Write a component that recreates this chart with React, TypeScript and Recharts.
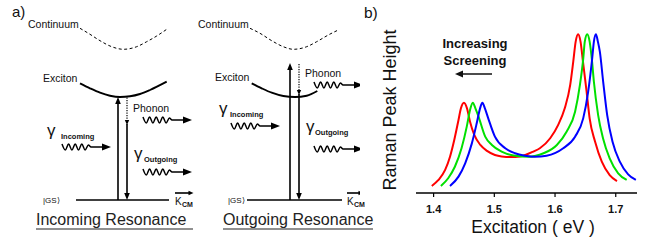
import React from 'react';
import { ComposedChart, LineChart, Line, Scatter, XAxis, YAxis } from 'recharts';

const FONT = '"Liberation Sans", Arial, Helvetica, sans-serif';

// ---- panel b: Raman peak height vs excitation energy (eV) ----
const redEnergy = [1.397, 1.408, 1.419, 1.427, 1.434, 1.441, 1.445, 1.450, 1.455, 1.460, 1.467, 1.477, 1.488, 1.501, 1.512, 1.527, 1.542, 1.551, 1.564, 1.575, 1.592, 1.605, 1.616, 1.625, 1.630, 1.634, 1.638, 1.642, 1.646, 1.652, 1.657, 1.666, 1.677, 1.690, 1.702];
const redHeight = [4.0, 7.4, 13.1, 20.6, 30.1, 41.5, 48.1, 51.3, 48.1, 40.5, 33.0, 27.3, 23.9, 21.6, 20.8, 20.5, 20.8, 21.6, 23.5, 25.4, 31.1, 38.6, 48.1, 61.4, 74.6, 86.0, 90.2, 86.0, 74.6, 57.6, 42.4, 29.1, 17.8, 10.2, 6.8];

const greenEnergy = [1.412, 1.424, 1.435, 1.446, 1.4546, 1.460, 1.4645, 1.469, 1.474, 1.485, 1.496, 1.512, 1.534, 1.556, 1.581, 1.603, 1.619, 1.633, 1.641, 1.6465, 1.649, 1.653, 1.657, 1.661, 1.664, 1.671, 1.679, 1.690, 1.704, 1.718];
const greenHeight = [4.0, 8.4, 14.9, 25.4, 37.7, 47.2, 51.3, 48.0, 43.4, 32.0, 27.3, 23.5, 21.2, 20.6, 22.6, 27.3, 34.8, 46.2, 61.4, 76.5, 86.0, 90.2, 86.0, 74.6, 63.2, 44.3, 31.1, 19.7, 11.2, 7.4];

const blueEnergy = [1.427, 1.441, 1.452, 1.463, 1.471, 1.4765, 1.4803, 1.4845, 1.490, 1.501, 1.518, 1.534, 1.5505, 1.567, 1.586, 1.6135, 1.633, 1.6464, 1.6546, 1.6612, 1.664, 1.6673, 1.6706, 1.6738, 1.6793, 1.6859, 1.6947, 1.7067, 1.7204, 1.7331];
const blueHeight = [4.0, 9.3, 16.9, 28.2, 39.6, 48.1, 51.3, 48.1, 42.4, 32.0, 25.4, 22.6, 21.2, 20.6, 21.2, 25.4, 32.0, 42.4, 57.6, 76.5, 86.0, 90.2, 86.0, 80.3, 63.2, 44.3, 29.1, 17.8, 10.6, 7.4];

const energyTicks = [1.4, 1.5, 1.6, 1.7];

// ---- panel a: energy diagrams (diagram box coordinates, y down) ----
const continuumIn = [[80, 28.3], [90, 34.3], [100, 40.7], [111.7, 46.7], [123.3, 49.3], [136.7, 46.7], [146.7, 41.7], [156.7, 36], [166.7, 29.3]];
const continuumOut = [[250, 28.3], [260, 33.3], [271.7, 40.7], [283.3, 46.7], [293.3, 49.3], [306.7, 46.7], [316.7, 41.7], [328.3, 35], [338.3, 30]];
const excitonIn = [[80, 83.3], [90, 88.3], [100, 92.7], [110, 95.7], [120, 97], [130, 96.3], [140, 94], [150, 90], [166.7, 81.7]];
const excitonOut = [[251.7, 83.3], [261.7, 88.3], [271.7, 92.7], [283.3, 96], [295, 97], [306.7, 95.7], [317.3, 91]];
const groundIn = [[76, 200], [169, 200]];
const groundOut = [[247, 200], [342, 200]];
const solidIn = [[[118, 200], [118, 102]], [[127, 124], [127, 195]], [[175, 193], [190, 193]]];
const solidOut = [[[290, 200], [290, 68]], [[299, 94], [299, 195]], [[347, 193], [360, 193]]];
const dottedIn = [[127, 97.5], [127, 120]];
const dottedOut = [[299, 64], [299, 90]];
const photonWave = [[0, -3], [3.3, 3], [6.6, -3], [9.9, 3], [13.2, -3], [16.5, 3], [19.8, -3], [23.1, 3], [26.4, -2], [29, 0], [41, 0]];
const photonStarts = [[62, 147], [143, 120], [143, 172], [231, 126], [314, 85], [314, 149]];
const heads = [
  { x: 118, y: 97, dir: 'up', kind: 'big' },
  { x: 127, y: 125, dir: 'down', kind: 'small' },
  { x: 127, y: 200, dir: 'down', kind: 'big' },
  { x: 193.5, y: 193, dir: 'right', kind: 'small' },
  { x: 290, y: 63, dir: 'up', kind: 'big' },
  { x: 299, y: 95, dir: 'down', kind: 'small' },
  { x: 299, y: 200, dir: 'down', kind: 'big' },
  { x: 363.5, y: 193, dir: 'right', kind: 'small' },
];

const pts = (a: number[][]) => a.map(([x, y]) => ({ x, y }));
const photonTips = photonStarts.map(([x, y]) => ({ x: x + 49, y, dir: 'right', kind: 'photon' }));

const HEAD_SIZE: Record<string, [number, number]> = { big: [7, 2.8], small: [5, 2.2], photon: [9, 3.5] };
const HEAD_ROT: Record<string, number> = { right: 0, down: 90, left: 180, up: -90 };

const ArrowHead = (props: any) => {
  const { cx, cy, payload } = props;
  const [len, hw] = HEAD_SIZE[payload.kind];
  return (
    <polygon
      points={`0,0 ${-len},${-hw} ${-len},${hw}`}
      transform={`translate(${cx},${cy}) rotate(${HEAD_ROT[payload.dir]})`}
      fill="#000"
    />
  );
};

const EnergyTick = (props: any) => {
  const { x, y, payload } = props;
  return (
    <text x={x} y={y} dy="0.71em" textAnchor="middle" fontSize={11} fontWeight="bold" fill="#111" fontFamily={FONT}>
      {Number(payload.value).toFixed(1)}
    </text>
  );
};

const profiles = [
  { name: 'red', color: '#ff0000', e: redEnergy, h: redHeight },
  { name: 'green', color: '#00e000', e: greenEnergy, h: greenHeight },
  { name: 'blue', color: '#0000ff', e: blueEnergy, h: blueHeight },
];

const Diagram = () => {
  const line = (key: string, data: number[][], extra: any = {}) => (
    <Line
      key={key}
      data={pts(data)}
      dataKey="y"
      type="linear"
      stroke="#000"
      strokeWidth={1.6}
      dot={false}
      activeDot={false}
      isAnimationActive={false}
      {...extra}
    />
  );
  return (
    <ComposedChart width={360} height={247} margin={{ top: 0, right: 0, bottom: 0, left: 0 }}>
      <XAxis type="number" dataKey="x" domain={[0, 360]} hide allowDataOverflow />
      <YAxis type="number" dataKey="y" domain={[0, 247]} reversed hide allowDataOverflow />
      {line('cIn', continuumIn, { type: 'monotone', strokeWidth: 1, strokeDasharray: '3 2.5' })}
      {line('cOut', continuumOut, { type: 'monotone', strokeWidth: 1, strokeDasharray: '3 2.5' })}
      {line('eIn', excitonIn, { type: 'monotone', strokeWidth: 1.9 })}
      {line('eOut', excitonOut, { type: 'monotone', strokeWidth: 1.9 })}
      {line('gIn', groundIn, { strokeWidth: 1.6 })}
      {line('gOut', groundOut, { strokeWidth: 1.6 })}
      {solidIn.map((s, i) => line(`sIn${i}`, s))}
      {solidOut.map((s, i) => line(`sOut${i}`, s))}
      {line('dIn', dottedIn, { strokeWidth: 1.2, strokeDasharray: '1.2 1.3' })}
      {line('dOut', dottedOut, { strokeWidth: 1.2, strokeDasharray: '1.2 1.3' })}
      {photonStarts.map(([x0, y0], i) =>
        line(`ph${i}`, photonWave.map(([dx, dy]) => [x0 + dx, y0 + dy]), { type: 'monotone', strokeWidth: 1.5 })
      )}
      <Scatter data={[...heads, ...photonTips]} shape={ArrowHead} isAnimationActive={false} />
    </ComposedChart>
  );
};

const Profiles = () => (
  <LineChart width={300} height={247} margin={{ top: 17, right: 23, bottom: 0, left: 56 }}>
    <XAxis
      type="number"
      dataKey="e"
      domain={[1.371, 1.735]}
      ticks={energyTicks}
      allowDataOverflow
      tick={<EnergyTick />}
      tickSize={4}
      tickMargin={8}
      height={54}
      axisLine={{ stroke: '#000', strokeWidth: 1.5 }}
      tickLine={{ stroke: '#000', strokeWidth: 1.2 }}
    />
    <YAxis type="number" domain={[0, 100]} width={0} tick={false} tickLine={false} axisLine={{ stroke: '#000', strokeWidth: 1.5 }} />
    {profiles.map((p) => (
      <Line
        key={p.name}
        data={p.e.map((e, i) => ({ e, h: p.h[i] }))}
        dataKey="h"
        type="monotone"
        stroke={p.color}
        strokeWidth={2}
        dot={false}
        activeDot={false}
        isAnimationActive={false}
      />
    ))}
  </LineChart>
);

const Labels = () => (
  <svg
    width={660}
    height={247}
    style={{ position: 'absolute', left: 0, top: 0, pointerEvents: 'none' }}
    fontFamily={FONT}
    fill="#111"
  >
    <text x={12} y={17} fontSize={15}>a)</text>
    <text x={364} y={18} fontSize={15.5}>b)</text>

    <text x={28} y={28} fontSize={10.5}>Continuum</text>
    <text x={198} y={28} fontSize={10.5}>Continuum</text>
    <text x={43} y={81.5} fontSize={10.5}>Exciton</text>
    <text x={215} y={81} fontSize={10.5}>Exciton</text>
    <text x={133} y={112} fontSize={10.5}>Phonon</text>
    <text x={305} y={77} fontSize={10.5}>Phonon</text>

    <text x={47} y={136} fontSize={17}>γ</text>
    <text x={61} y={139} fontSize={7.5} fontWeight="bold">Incoming</text>
    <text x={134} y={159} fontSize={17}>γ</text>
    <text x={144} y={162} fontSize={7.5} fontWeight="bold">Outgoing</text>
    <text x={219} y={114} fontSize={17}>γ</text>
    <text x={230} y={117} fontSize={7.5} fontWeight="bold">Incoming</text>
    <text x={306} y={132} fontSize={17}>γ</text>
    <text x={315} y={135} fontSize={7.5} fontWeight="bold">Outgoing</text>

    <text x={43} y={203} fontSize={8}>|GS⟩</text>
    <text x={228} y={203} fontSize={8}>|GS⟩</text>
    <text x={175} y={205} fontSize={10}>K</text>
    <text x={182} y={207} fontSize={7} fontWeight="bold">CM</text>
    <text x={347} y={205} fontSize={10}>K</text>
    <text x={354} y={207} fontSize={7} fontWeight="bold">CM</text>

    <text x={36} y={224.5} fontSize={16} fill="#222">Incoming Resonance</text>
    <line x1={36} x2={193} y1={229} y2={229} stroke="#222" strokeWidth={1.2} />
    <text x={223} y={224.5} fontSize={16} fill="#222">Outgoing Resonance</text>
    <line x1={223} x2={373} y1={229} y2={229} stroke="#222" strokeWidth={1.2} />

    <text x={475} y={47.5} fontSize={13} fontWeight="bold" textAnchor="middle">Increasing</text>
    <text x={475} y={65} fontSize={13} fontWeight="bold" textAnchor="middle">Screening</text>
    <line x1={461} x2={492} y1={74} y2={74} stroke="#111" strokeWidth={1.5} />
    <polygon points="455,74 463,70.5 463,77.5" fill="#111" />

    <text x={395.5} y={110} fontSize={18} textAnchor="middle" transform="rotate(-90 395.5 110)">Raman Peak Height</text>
    <text x={533} y={233} fontSize={17.5} textAnchor="middle">Excitation ( eV )</text>
  </svg>
);

export default function App() {
  return (
    <div style={{ position: 'absolute', left: 0, top: 0, width: 660, height: 247, background: '#fff', overflow: 'hidden' }}>
      <div style={{ position: 'absolute', left: 0, top: 0 }}>
        <Diagram />
      </div>
      <div style={{ position: 'absolute', left: 360, top: 0 }}>
        <Profiles />
      </div>
      <Labels />
    </div>
  );
}
